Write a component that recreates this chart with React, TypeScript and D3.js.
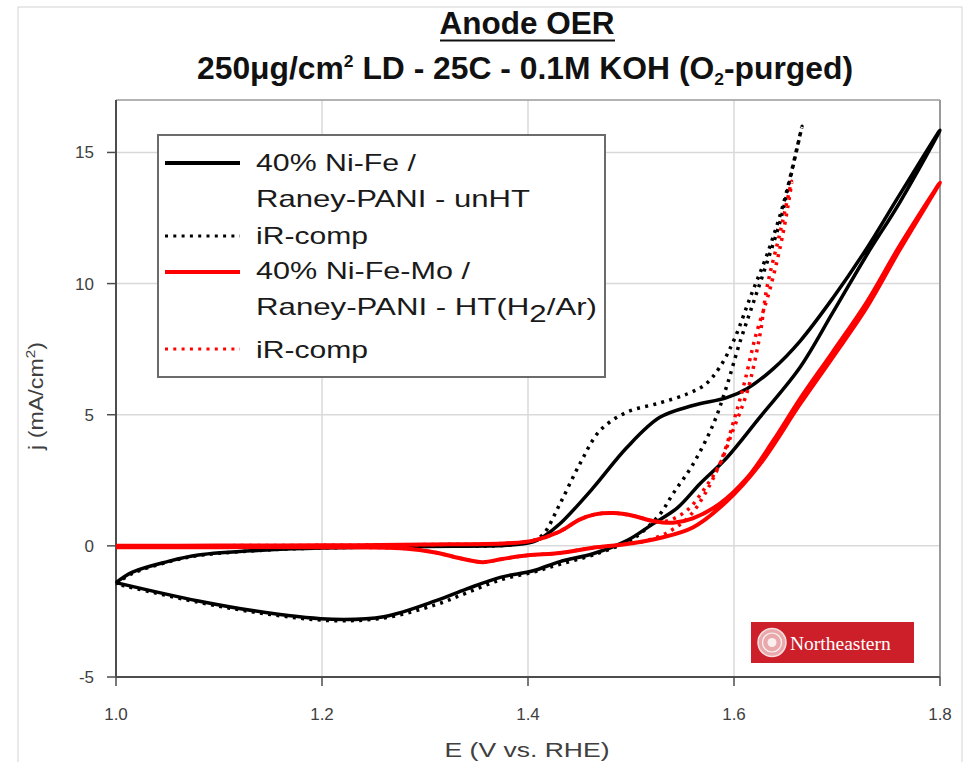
import React from "react";
import * as d3 from "d3";

type Pt = [number, number];

// Cyclic voltammograms, E (V vs. RHE) vs j (mA/cm²); anodic sweep then cathodic sweep
const niFeUnHT: Pt[] = [
  [1.0, -1.4], [1.016, -1.0], [1.05, -0.6], [1.08, -0.35], [1.15, -0.15], [1.2, -0.08],
  [1.3, -0.02], [1.38, 0.02], [1.405, 0.15], [1.415, 0.35], [1.431, 0.84], [1.463, 2.2],
  [1.496, 3.75], [1.528, 4.9], [1.56, 5.35], [1.593, 5.65], [1.613, 6.0], [1.638, 6.75],
  [1.664, 7.8], [1.696, 9.45], [1.729, 11.35], [1.761, 13.4], [1.8, 15.85],
  [1.761, 13.1], [1.729, 11.1], [1.696, 8.9], [1.664, 6.8], [1.625, 4.9],
  [1.593, 3.36], [1.567, 2.37], [1.545, 1.45], [1.521, 0.83], [1.496, 0.2], [1.463, -0.3],
  [1.431, -0.6], [1.405, -0.95], [1.373, -1.2], [1.34, -1.65], [1.31, -2.1], [1.26, -2.7],
  [1.21, -2.8], [1.147, -2.55], [1.08, -2.1], [1.0, -1.4],
];

const niFeUnHTiR: Pt[] = [
  [1.0, -1.45], [1.016, -1.05], [1.05, -0.62], [1.08, -0.37], [1.15, -0.15], [1.2, -0.08],
  [1.3, -0.02], [1.38, 0.03], [1.405, 0.2], [1.415, 0.45], [1.431, 1.6], [1.45, 3.1],
  [1.47, 4.4], [1.496, 5.1], [1.528, 5.45], [1.555, 5.8], [1.572, 6.15], [1.586, 6.8],
  [1.6, 7.85], [1.616, 9.5], [1.632, 11.1], [1.648, 13.05], [1.666, 16.0],
  [1.654, 13.9], [1.645, 12.4], [1.632, 10.8], [1.619, 9.3], [1.606, 7.8], [1.593, 6.1],
  [1.58, 4.65], [1.56, 3.1], [1.541, 2.0], [1.528, 1.2], [1.51, 0.5], [1.496, 0.15],
  [1.463, -0.35], [1.431, -0.7], [1.405, -1.0], [1.373, -1.3], [1.34, -1.8], [1.31, -2.25],
  [1.26, -2.75], [1.21, -2.85], [1.147, -2.6], [1.08, -2.15], [1.0, -1.45],
];

const niFeMoHT: Pt[] = [
  [1.0, 0.0], [1.1, 0.01], [1.2, 0.02], [1.3, 0.05], [1.38, 0.1], [1.405, 0.2],
  [1.431, 0.55], [1.45, 1.0], [1.465, 1.2], [1.483, 1.25], [1.502, 1.15], [1.521, 0.95],
  [1.541, 0.88], [1.56, 1.05], [1.586, 1.6], [1.613, 2.6], [1.638, 4.0], [1.664, 5.6],
  [1.696, 7.4], [1.729, 9.3], [1.761, 11.45], [1.8, 13.85],
  [1.761, 11.3], [1.729, 9.1], [1.696, 7.2], [1.664, 5.4], [1.625, 3.1], [1.593, 1.7],
  [1.56, 0.7], [1.528, 0.3], [1.496, 0.07], [1.463, -0.07], [1.431, -0.27], [1.4, -0.36],
  [1.375, -0.5], [1.356, -0.62], [1.335, -0.48], [1.31, -0.25], [1.28, -0.1], [1.2, -0.05],
  [1.1, -0.05], [1.0, -0.05],
];

const niFeMoHTiR: Pt[] = [
  [1.0, 0.0], [1.2, 0.02], [1.3, 0.05], [1.38, 0.1], [1.405, 0.2], [1.431, 0.55],
  [1.45, 1.0], [1.465, 1.2], [1.483, 1.25], [1.502, 1.15], [1.521, 0.95], [1.535, 0.95],
  [1.554, 1.34], [1.57, 2.1], [1.586, 3.1], [1.599, 4.4], [1.613, 5.9], [1.625, 8.0],
  [1.632, 9.85], [1.645, 12.0], [1.656, 13.9],
  [1.647, 11.8], [1.635, 9.8], [1.621, 8.0], [1.61, 6.2], [1.6, 4.8], [1.588, 3.3],
  [1.572, 2.0], [1.556, 1.1], [1.535, 0.5], [1.51, 0.15], [1.496, 0.07], [1.463, -0.07],
  [1.431, -0.27], [1.4, -0.36], [1.375, -0.5], [1.356, -0.62], [1.335, -0.48], [1.31, -0.25],
  [1.28, -0.1], [1.2, -0.05], [1.0, -0.05],
];

const xTicks = [1.0, 1.2, 1.4, 1.6, 1.8];
const yTicks = [-5, 0, 5, 10, 15];

const left = 116;
const right = 940;
const top = 100;
const bottom = 677;

export default function App() {
  const x = d3.scaleLinear().domain([1.0, 1.8]).range([left, right]);
  const y = d3.scaleLinear().domain([-5, 17]).range([bottom, top]);
  const line = d3
    .line<Pt>()
    .x((d) => x(d[0]))
    .y((d) => y(d[1]))
    .curve(d3.curveCatmullRom.alpha(0.5));

  const font = "'Liberation Sans', Arial, sans-serif";
  const dots = "3 5.3";

  const legendRows = [
    { y: 163, color: "#000", dash: null as string | null },
    { y: 236, color: "#000", dash: dots },
    { y: 272, color: "#ff0000", dash: null },
    { y: 349, color: "#ff0000", dash: dots },
  ];

  return (
    <svg
      width={972}
      height={762}
      style={{ position: "absolute", left: 0, top: 0, background: "#fff" }}
      fontFamily={font}
    >
      {/* outer frame */}
      <rect x={18} y={7} width={944} height={770} fill="none" stroke="#d4d4d4" strokeWidth={1} />

      {/* title */}
      <text x={527} y={34} textAnchor="middle" fontSize={31} fontWeight="bold" fill="#111"
        textLength={175} lengthAdjust="spacingAndGlyphs">
        Anode OER
      </text>
      <line x1={440} x2={615} y1={40.5} y2={40.5} stroke="#111" strokeWidth={2} />
      <text x={525} y={79} textAnchor="middle" fontSize={31} fontWeight="bold" fill="#111"
        textLength={656} lengthAdjust="spacingAndGlyphs">
        250μg/cm<tspan fontSize={17} dy={-12}>2</tspan>
        <tspan dy={12}> LD - 25C - 0.1M KOH (O</tspan>
        <tspan fontSize={17} dy={6}>2</tspan>
        <tspan dy={-6}>-purged)</tspan>
      </text>

      {/* grid */}
      {yTicks.filter((t) => t > -5).map((t) => (
        <line key={"gy" + t} x1={left} x2={right} y1={y(t)} y2={y(t)} stroke="#d9d9d9" strokeWidth={1.5} />
      ))}
      {xTicks.filter((t) => t > 1.0 && t < 1.8).map((t) => (
        <line key={"gx" + t} x1={x(t)} x2={x(t)} y1={top} y2={bottom} stroke="#d9d9d9" strokeWidth={1.5} />
      ))}
      {/* plot frame (top, right) */}
      <line x1={left} x2={right} y1={top} y2={top} stroke="#9a9a9a" strokeWidth={1.5} />
      <line x1={right} x2={right} y1={top} y2={bottom} stroke="#9a9a9a" strokeWidth={2} />

      {/* axes */}
      <line x1={left} x2={left} y1={top} y2={bottom} stroke="#4d4d4d" strokeWidth={2} />
      <line x1={left} x2={right} y1={bottom} y2={bottom} stroke="#4d4d4d" strokeWidth={2} />
      {yTicks.map((t) => (
        <g key={"ty" + t}>
          <line x1={left - 9} x2={left} y1={y(t)} y2={y(t)} stroke="#4d4d4d" strokeWidth={1.5} />
          <text x={94} y={y(t) + 6} textAnchor="end" fontSize={17} fill="#404040">{t}</text>
        </g>
      ))}
      {xTicks.map((t) => (
        <g key={"tx" + t}>
          <line x1={x(t)} x2={x(t)} y1={bottom} y2={bottom + 9} stroke="#4d4d4d" strokeWidth={1.5} />
          <text x={x(t)} y={720} textAnchor="middle" fontSize={17} fill="#404040">{t.toFixed(1)}</text>
        </g>
      ))}
      <text x={527} y={757} textAnchor="middle" fontSize={21} fill="#404040"
        textLength={165} lengthAdjust="spacingAndGlyphs">E (V vs. RHE)</text>
      <text transform="translate(43,396) rotate(-90)" textAnchor="middle" fontSize={20} fill="#404040"
        textLength={108} lengthAdjust="spacingAndGlyphs">
        j (mA/cm<tspan fontSize={13} dy={-8}>2</tspan><tspan dy={8}>)</tspan>
      </text>

      {/* curves */}
      <g fill="none" strokeLinejoin="round">
        <path d={line(niFeUnHT) ?? ""} stroke="#000" strokeWidth={3.5} />
        <path d={line(niFeUnHTiR) ?? ""} stroke="#000" strokeWidth={3.5} strokeDasharray={dots} />
        <path d={line(niFeMoHT) ?? ""} stroke="#ff0000" strokeWidth={4} />
        <path d={line(niFeMoHTiR) ?? ""} stroke="#ff0000" strokeWidth={3.5} strokeDasharray={dots} />
      </g>

      {/* legend */}
      <rect x={158} y={135} width={447} height={242} fill="#fff" stroke="#6b6b6b" strokeWidth={2} />
      {legendRows.map((r, i) => (
        <line key={"lg" + i} x1={165} x2={240} y1={r.y} y2={r.y} stroke={r.color}
          strokeWidth={r.dash ? 3 : 4} strokeDasharray={r.dash ?? undefined} />
      ))}
      <g fontSize={24} fill="#1a1a1a">
        <text x={256} y={171} textLength={160} lengthAdjust="spacingAndGlyphs">40% Ni-Fe /</text>
        <text x={256} y={207} textLength={274} lengthAdjust="spacingAndGlyphs">Raney-PANI - unHT</text>
        <text x={256} y={244} textLength={112} lengthAdjust="spacingAndGlyphs">iR-comp</text>
        <text x={256} y={279} textLength={214} lengthAdjust="spacingAndGlyphs">40% Ni-Fe-Mo /</text>
        <text x={256} y={315} textLength={341} lengthAdjust="spacingAndGlyphs">
          Raney-PANI - HT(H<tspan dy={7}>2</tspan><tspan dy={-7}>/Ar)</tspan>
        </text>
        <text x={256} y={358} textLength={112} lengthAdjust="spacingAndGlyphs">iR-comp</text>
      </g>

      {/* logo */}
      <rect x={751} y={622} width={163} height={41} fill="#cc1f2a" />
      <circle cx={772} cy={642.5} r={14} fill="#e9a9ac" stroke="#f7dede" strokeWidth={1.5} />
      <circle cx={772} cy={642.5} r={9.5} fill="none" stroke="#fff" strokeWidth={1.2} opacity={0.85} />
      <circle cx={772} cy={642.5} r={4.5} fill="#fff" opacity={0.8} />
      <text x={790} y={650} fontSize={19.5} fill="#fff" fontFamily="'Liberation Serif', 'DejaVu Serif', serif">
        Northeastern
      </text>
    </svg>
  );
}
